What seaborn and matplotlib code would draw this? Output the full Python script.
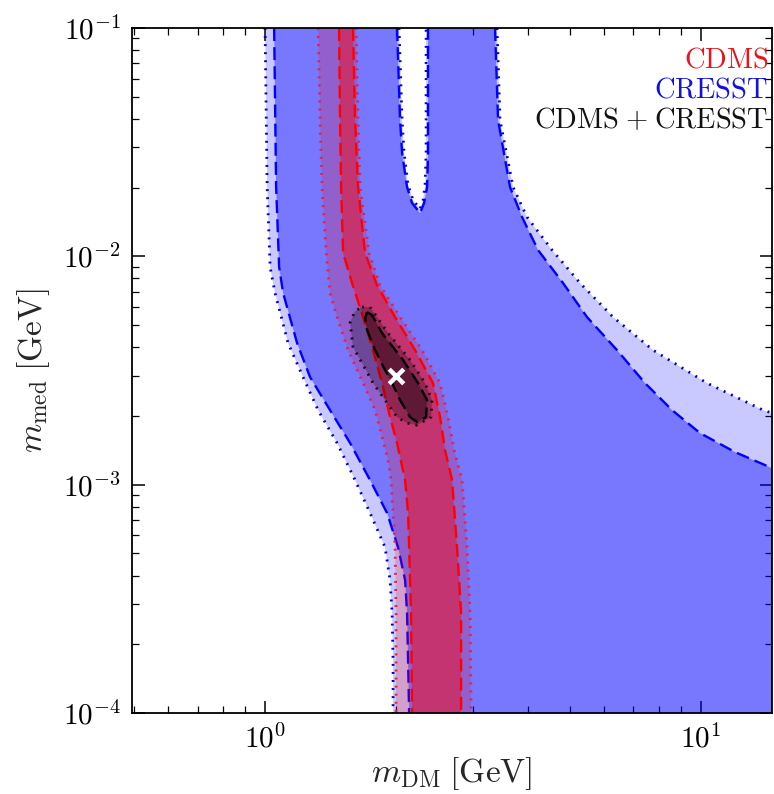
import numpy as np
import pandas as pd
import matplotlib
matplotlib.use("Agg")
import matplotlib.pyplot as plt
from matplotlib import ticker
import seaborn as sns

# ---------------- data (GeV) ----------------
XMIN, XMAX = 0.495, 14.55
YMIN, YMAX = 1e-4, 1e-1

# CRESST 2 sigma (dotted) left boundary, top -> bottom
cresst2_left_m = [1.000, 1.011, 1.027, 1.054, 1.129, 1.222, 1.323, 1.463, 1.609, 1.741, 1.884, 1.935, 1.956, 1.966, 1.966]
cresst2_left_med = [0.1, 0.02011, 0.008977, 0.006906, 0.004172, 0.002960, 0.002122, 0.001521, 0.001047, 0.000751, 0.000533, 0.000382, 0.000274, 0.0001705, 0.0001]
# CRESST 1 sigma (dashed) left boundary, top -> bottom
cresst1_left_m = [1.049, 1.060, 1.077, 1.100, 1.184, 1.268, 1.409, 1.567, 1.741, 1.905, 2.018, 2.095, 2.117, 2.128, 2.140]
cresst1_left_med = cresst2_left_med
# CRESST right boundaries, top -> right edge
cresst2_right_m = [3.405, 3.459, 3.706, 3.990, 4.553, 5.279, 6.283, 7.761, 10.32, 13.88, 14.55]
cresst2_right_med = [0.1, 0.03954, 0.02011, 0.01486, 0.01066, 0.007640, 0.005422, 0.003886, 0.002786, 0.002122, 0.002059]
cresst1_right_m = [3.369, 3.423, 3.647, 3.886, 4.228, 4.825, 5.477, 6.417, 7.439, 8.581, 9.947, 11.97, 14.55]
cresst1_right_med = [0.1, 0.03954, 0.02011, 0.01486, 0.01066, 0.007640, 0.005422, 0.003886, 0.002786, 0.002122, 0.001683, 0.001389, 0.001182]
# CRESST excluded notch at the top (left side down, right side up)
notch1_m = [2.008, 2.040, 2.062, 2.117, 2.174, 2.267, 2.316, 2.353, 2.365, 2.365, 2.365]
notch1_med = [0.1, 0.03954, 0.02835, 0.02011, 0.01712, 0.01548, 0.01712, 0.02011, 0.02835, 0.03954, 0.1]
notch2_m = [2.029, 2.062, 2.084, 2.128, 2.185, 2.267, 2.304, 2.328, 2.341, 2.341, 2.341]
notch2_med = [0.1, 0.03954, 0.02835, 0.02052, 0.01765, 0.01612, 0.01765, 0.02052, 0.02835, 0.03954, 0.1]

# CDMS band boundaries, top -> bottom
cdms2_left_m = [1.323, 1.337, 1.351, 1.380, 1.409, 1.463, 1.550, 1.678, 1.788, 1.845, 1.915, 1.945, 1.987, 1.997, 1.997]
cdms2_left_med = [0.1, 0.03954, 0.02011, 0.01066, 0.006906, 0.005422, 0.003886, 0.002786, 0.002122, 0.001683, 0.001282, 0.001047, 0.000533, 0.000274, 0.0001]
cdms1_left_m = [1.478, 1.486, 1.494, 1.510, 1.583, 1.678, 1.769, 1.855, 1.935, 2.008, 2.095, 2.128, 2.140, 2.162, 2.174]
cdms1_left_med = [0.1, 0.03954, 0.02011, 0.01034, 0.007640, 0.005422, 0.003886, 0.002786, 0.001977, 0.001521, 0.001047, 0.000751, 0.000533, 0.000274, 0.0001]
cdms1_right_m = [1.591, 1.609, 1.634, 1.696, 1.806, 1.987, 2.208, 2.428, 2.520, 2.587, 2.685, 2.757, 2.816, 2.816]
cdms1_right_med = [0.1, 0.03954, 0.02011, 0.01034, 0.007487, 0.005422, 0.003886, 0.002786, 0.001977, 0.001418, 0.001047, 0.000533, 0.000274, 0.0001]
cdms2_right_m = [1.617, 1.634, 1.652, 1.732, 1.835, 2.040, 2.291, 2.520, 2.629, 2.714, 2.831, 2.906, 2.953, 2.969]
cdms2_right_med = cdms1_right_med

# CDMS + CRESST closed contours
comb2_m = [1.669, 1.741, 1.915, 2.151, 2.328, 2.415, 2.403, 2.232, 2.117, 2.008, 1.884, 1.769, 1.669, 1.591, 1.567, 1.609]
comb2_med = [0.005996, 0.005996, 0.004613, 0.003514, 0.002786, 0.002347, 0.001977, 0.001824, 0.001861, 0.001977, 0.002347, 0.002786, 0.003409, 0.004006, 0.005156, 0.005759]
comb1_m = [1.714, 1.759, 1.855, 2.073, 2.244, 2.353, 2.341, 2.232, 2.151, 2.040, 1.956, 1.884, 1.788, 1.714, 1.696]
comb1_med = [0.005701, 0.005532, 0.004613, 0.003514, 0.002786, 0.002347, 0.001977, 0.001880, 0.001977, 0.002347, 0.002786, 0.003177, 0.003886, 0.004756, 0.005367]

# best fit point
bestfit_m = [2.0]
bestfit_med = [3.0e-3]

legend_labels = [r"$\mathrm{CDMS}$", r"$\mathrm{CRESST}$", r"$\mathrm{CDMS}\;{+}\;\mathrm{CRESST}$"]
legend_colors = ["#e8141e", "#1010e0", "#111111"]

# ---------------- style ----------------
sns.set_theme(style="ticks")
plt.rcParams.update({
    "mathtext.fontset": "cm",
    "font.family": ["DejaVu Serif"],
    "axes.linewidth": 1.3,
    "axes.edgecolor": "black",
})

fig = plt.figure(figsize=(7.74, 7.94), dpi=100)
ax = fig.add_axes([0.1705, 0.1020, 0.8269, 0.8627])
ax.set_xscale("log")
ax.set_yscale("log")
ax.set_xlim(XMIN, XMAX)
ax.set_ylim(YMIN, YMAX)

DOT = (0, (0.7, 2.2))
DASH = (0, (5.5, 2.6))


def rev(a):
    return list(a)[::-1]


def line(xs, ys, color, ls, z, lw=1.7, closed=False):
    xs, ys = list(xs), list(ys)
    if closed:
        xs, ys = xs + xs[:1], ys + ys[:1]
    sns.lineplot(x=xs, y=ys, sort=False, estimator=None, color=color,
                 linestyle=ls, linewidth=lw, ax=ax, zorder=z)


# CRESST regions
c2x = cresst2_left_m + [XMAX] + rev(cresst2_right_m) + rev(notch2_m)
c2y = cresst2_left_med + [YMIN] + rev(cresst2_right_med) + rev(notch2_med)
c1x = cresst1_left_m + [XMAX] + rev(cresst1_right_m) + rev(notch1_m)
c1y = cresst1_left_med + [YMIN] + rev(cresst1_right_med) + rev(notch1_med)
ax.fill(c2x, c2y, color="blue", alpha=0.21, lw=0, zorder=1)
ax.fill(c1x, c1y, color="blue", alpha=0.40, lw=0, zorder=1)
for xs, ys in [(cresst2_left_m, cresst2_left_med), (cresst2_right_m, cresst2_right_med), (notch2_m, notch2_med)]:
    line(xs, ys, "#0000c8", DOT, 2, lw=2.0)
for xs, ys in [(cresst1_left_m, cresst1_left_med), (cresst1_right_m, cresst1_right_med), (notch1_m, notch1_med)]:
    line(xs, ys, "#0000ff", DASH, 2)

# CDMS regions
ax.fill(cdms2_left_m + rev(cdms2_right_m), cdms2_left_med + rev(cdms2_right_med),
        color="red", alpha=0.20, lw=0, zorder=3)
ax.fill(cdms1_left_m + rev(cdms1_right_m), cdms1_left_med + rev(cdms1_right_med),
        color="red", alpha=0.45, lw=0, zorder=3)
for xs, ys in [(cdms2_left_m, cdms2_left_med), (cdms2_right_m, cdms2_right_med)]:
    line(xs, ys, "#e0204a", DOT, 4, lw=2.0)
for xs, ys in [(cdms1_left_m, cdms1_left_med), (cdms1_right_m, cdms1_right_med)]:
    line(xs, ys, "#ff0000", DASH, 4)

# Combined
ax.fill(comb2_m, comb2_med, color="black", alpha=0.25, lw=0, zorder=5)
ax.fill(comb1_m, comb1_med, color="black", alpha=0.35, lw=0, zorder=5)
line(comb2_m, comb2_med, "#1a0010", DOT, 6, lw=2.0, closed=True)
line(comb1_m, comb1_med, "black", DASH, 6, closed=True)

sns.scatterplot(x=bestfit_m, y=bestfit_med, marker="x", s=110, color="white",
                linewidth=3.2, ax=ax, zorder=7)

# legend-like labels
ypos = [0.943, 0.898, 0.854]
for lab, col, yy in zip(legend_labels, legend_colors, ypos):
    ax.text(0.994, yy, lab, color=col,
            fontsize=20.5, ha="right", va="baseline", transform=ax.transAxes, zorder=8)

# axes formatting
fmt = ticker.FuncFormatter(lambda v, p: r"$10^{%d}$" % int(round(np.log10(v))))
ax.xaxis.set_major_locator(ticker.LogLocator(base=10, numticks=10))
ax.yaxis.set_major_locator(ticker.LogLocator(base=10, numticks=10))
ax.xaxis.set_minor_locator(ticker.LogLocator(base=10, subs=np.arange(2, 10), numticks=20))
ax.yaxis.set_minor_locator(ticker.LogLocator(base=10, subs=np.arange(2, 10), numticks=20))
ax.xaxis.set_major_formatter(fmt)
ax.yaxis.set_major_formatter(fmt)
ax.xaxis.set_minor_formatter(ticker.NullFormatter())
ax.yaxis.set_minor_formatter(ticker.NullFormatter())
ax.tick_params(which="both", direction="in", top=True, right=True, colors="black",
               labelsize=21, pad=8)
ax.tick_params(which="major", length=9, width=1.1)
ax.tick_params(which="minor", length=5, width=0.9)

ax.set_xlabel(r"$m_{\rm DM}\;[{\rm GeV}]$", fontsize=24)
ax.set_ylabel(r"$m_{\rm med}\;[{\rm GeV}]$", fontsize=24)
ax.xaxis.set_label_coords(0.5, -0.062)
ax.yaxis.set_label_coords(-0.125, 0.5)
for s in ax.spines.values():
    s.set_zorder(10)

fig.savefig("out.png", dpi=100)
